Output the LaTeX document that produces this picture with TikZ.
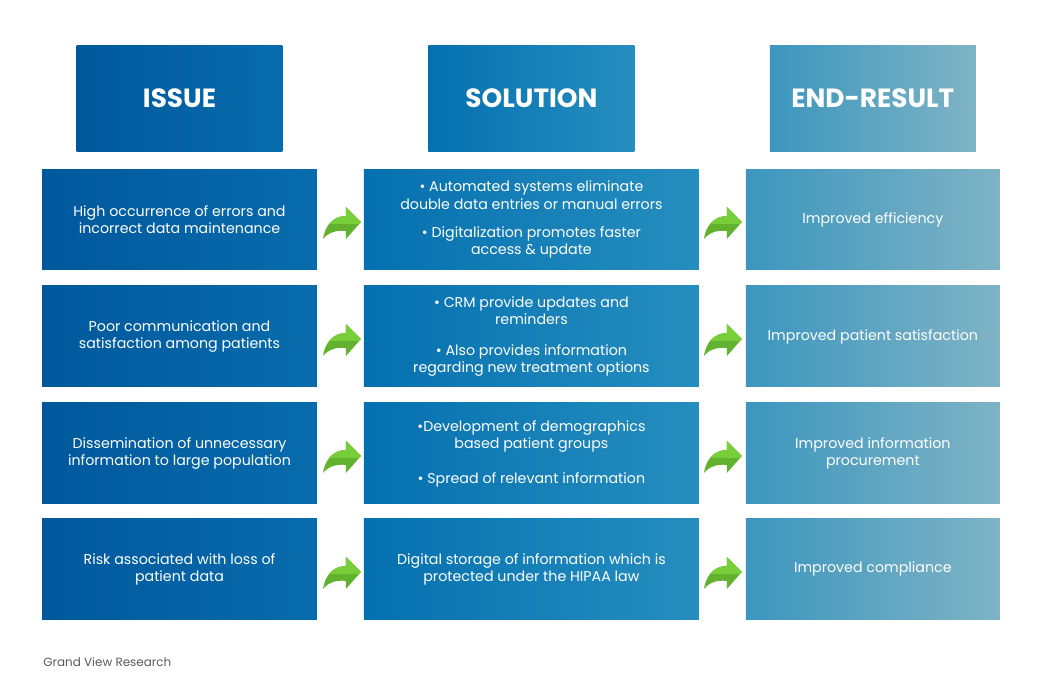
\documentclass[tikz,border=0pt]{standalone}
\usepackage{fontspec}
\setmainfont{Poppins}
\usepackage{tikz}
\usetikzlibrary{calc}
\usetikzlibrary{positioning}
\definecolor{issueleft}{RGB}{0, 88, 156}
\definecolor{issueright}{RGB}{8, 108, 172}
\definecolor{solleft}{RGB}{5, 112, 176}
\definecolor{solright}{RGB}{38, 142, 190}
\definecolor{endleft}{RGB}{60, 150, 190}
\definecolor{endright}{RGB}{127, 179, 197}
\definecolor{leaflight}{RGB}{120, 206, 56}
\definecolor{leafdark}{RGB}{98, 178, 48}
\definecolor{sourcegray}{RGB}{90, 90, 90}

\tikzset{
    head/.style      = {minimum width=4.12cm, minimum height=2.12cm, inner sep=0pt, outer sep=0pt, text=white,
                        font=\fontsize{15}{18}\selectfont\bfseries},
    cell/.style      = {minimum height=2.02cm, inner sep=0pt, outer sep=0pt, text=white, align=center,
                        font=\fontsize{8.1}{9.7}\selectfont},
    issuecell/.style = {cell, minimum width=5.50cm, left color=issueleft, right color=issueright},
    solcell/.style   = {cell, minimum width=6.70cm, left color=solleft,   right color=solright},
    endcell/.style   = {cell, minimum width=5.08cm, left color=endleft,   right color=endright},
    greenarrow/.pic  = {
        \fill[leafdark] (-15,-6) -- (-15,-15) -- (0,0) -- (-15,17) -- (-15,9)
             .. controls (-24,8) and (-32,10) .. (-38,17)
             .. controls (-36,4) and (-28,-6) .. cycle;
        \begin{scope}
            \clip (-40,-20) rectangle (2,2);
            \fill[leaflight] (-15,-6) -- (-15,-15) -- (0,0) -- (-15,17) -- (-15,9)
                 .. controls (-24,8) and (-32,10) .. (-38,17)
                 .. controls (-36,4) and (-28,-6) .. cycle;
        \end{scope}
    }
}

\begin{document}
\begin{tikzpicture}[x=0.02cm, y=-0.02cm]
    \useasboundingbox (0,0) rectangle (1042,695);

    % rows
    \node[issuecell] (is1) at (179.5,219.5) {High occurrence of errors and\\incorrect data maintenance};
    \node[issuecell, below=0.32cm of is1] (is2) {Poor communication and\\satisfaction among patients};
    \node[issuecell, below=0.32cm of is2] (is3) {Dissemination of unnecessary\\information to large population};
    \node[issuecell, below=0.30cm of is3] (is4) {Risk associated with loss of\\patient data};

    \node[solcell, right=0.94cm of is1] (sol1) {• Automated systems eliminate\\double data entries or manual errors\\[6.3pt]• Digitalization promotes faster\\access \& update};
    \node[solcell, right=0.94cm of is2] (sol2) {• CRM provide updates and\\reminders\\[8pt]• Also provides information\\regarding new treatment options};
    \node[solcell, right=0.94cm of is3] (sol3) {•Development of demographics\\based patient groups\\[10.2pt]• Spread of relevant information};
    \node[solcell, right=0.94cm of is4] (sol4) {Digital storage of information which is\\protected under the HIPAA law};

    \node[endcell, right=0.94cm of sol1] (end1) {Improved efficiency};
    \node[endcell, right=0.94cm of sol2] (end2) {Improved patient satisfaction};
    \node[endcell, right=0.94cm of sol3] (end3) {Improved information\\procurement};
    \node[endcell, right=0.94cm of sol4] (end4) {Improved compliance};

    % headers
    \node[head, above=0.36cm of is1,  left color=issueleft, right color=issueright] (hissue) {ISSUE};
    \node[head, above=0.36cm of sol1, left color=solleft,   right color=solright]   (hsol)   {SOLUTION};
    \node[head, above=0.36cm of end1, left color=endleft,   right color=endright]   (hend)   {END-RESULT};

    % arrows
    \pic at ($(sol1.west)+(-3,2.5)$) {greenarrow};
    \pic at ($(sol2.west)+(-3,2.5)$) {greenarrow};
    \pic at ($(sol3.west)+(-3,2.5)$) {greenarrow};
    \pic at ($(sol4.west)+(-3,2.5)$) {greenarrow};
    \pic at ($(end1.west)+(-4,2.5)$) {greenarrow};
    \pic at ($(end2.west)+(-4,2.5)$) {greenarrow};
    \pic at ($(end3.west)+(-4,2.5)$) {greenarrow};
    \pic at ($(end4.west)+(-4,2.5)$) {greenarrow};

    \node[anchor=west, inner sep=0pt, text=sourcegray, font=\fontsize{6.8}{8}\selectfont] (source) at (43,662) {Grand View Research};
\end{tikzpicture}
\end{document}
